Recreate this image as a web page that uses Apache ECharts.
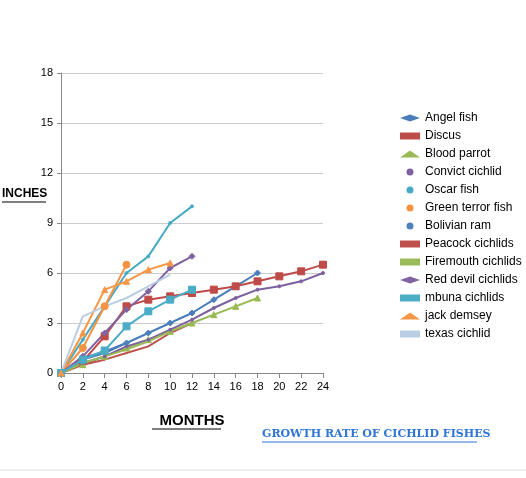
<!DOCTYPE html>
<html>
<head>
<meta charset="utf-8">
<script src="https://cdn.jsdelivr.net/npm/echarts@6/dist/echarts.min.js"></script>
<style>html,body{margin:0;background:#fff}#c{width:526px;height:478px}</style>
</head>
<body>
<div id="c"></div>
<script>
// months on x axis
var months = [0, 2, 4, 6, 8, 10, 12, 14, 16, 18, 20, 22, 24];
var names = ['Angel fish', 'Discus', 'Blood parrot', 'Convict cichlid', 'Oscar fish', 'Green terror fish',
  'Bolivian ram', 'Peacock cichlids', 'Firemouth cichlids', 'Red devil cichlids', 'mbuna cichlids', 'jack demsey', 'texas cichlid'];
var angelFish = [0, 0.8, 1.2, 1.8, 2.4, 3.0, 3.6, 4.4, 5.2, 6.0];
var discus = [0, 0.7, 2.2, 4.0, 4.4, 4.6, 4.8, 5.0, 5.2, 5.5, 5.8, 6.1, 6.5];
var bloodParrot = [0, 0.5, 1.0, 1.5, 2.0, 2.5, 3.0, 3.5, 4.0, 4.5];
var convict = [0, 0.6, 1.0, 1.6, 2.0, 2.6, 3.2, 3.9, 4.5, 5.0, 5.2, 5.5, 6.0];
var oscar = [0, 2.0, 4.0, 6.0, 7.0, 9.0, 10.0];
var greenTerror = [0, 1.5, 4.0, 6.5];
var bolivianRam = [0, 0.9, 1.3, 1.8];
var peacock = [0, 0.5, 0.8, 1.2, 1.6, 2.4, 3.0];
var firemouth = [0, 0.6, 1.0, 1.4, 1.9, 2.5, 3.0];
var redDevil = [0, 1.0, 2.4, 3.8, 4.9, 6.3, 7.0];
var mbuna = [0, 0.8, 1.35, 2.8, 3.7, 4.4, 5.0];
var jackDemsey = [0, 2.4, 5.0, 5.5, 6.2, 6.6];
var texas = [0, 3.4, 4.0, 4.5, 5.2, 5.9];
var yTicks = [0, 3, 6, 9, 12, 15, 18];

var allData = [angelFish, discus, bloodParrot, convict, oscar, greenTerror, bolivianRam,
  peacock, firemouth, redDevil, mbuna, jackDemsey, texas];
var colors = ['#4A7EBB', '#BE4B48', '#98B954', '#7D60A0', '#46AAC5', '#F69240',
  '#4F81BD', '#C0504D', '#9BBB59', '#8064A2', '#4BACC6', '#F79646', '#B9CDE5'];
var symbols = ['diamond', 'rect', 'triangle', 'circle', 'circle', 'circle',
  'circle', 'circle', 'circle', 'diamond', 'rect', 'triangle', 'circle'];
var sizes = [6, 7, 6, 3, 3, 7, 3, 0, 0, 6, 7, 6, 0];

var series = names.map(function (n, i) {
  return {
    name: n, type: 'line',
    data: allData[i].map(function (v, j) { return [months[j], v]; }),
    symbol: symbols[i], symbolSize: sizes[i],
    lineStyle: { width: 2, color: colors[i] },
    itemStyle: { color: colors[i], borderColor: colors[i] }
  };
});

var chart = echarts.init(document.getElementById('c'));
chart.setOption({
  animation: false,
  color: colors,
  grid: { left: 61, top: 73, width: 262, height: 300 },
  legend: {
    orient: 'vertical', left: 395, top: 107, itemGap: 6, itemWidth: 20, itemHeight: 7,
    textStyle: { fontSize: 12, color: '#000', fontFamily: 'Liberation Sans' },
    data: names.map(function (n, i) {
      return { name: n, icon: sizes[i] ? symbols[i] : 'rect', itemStyle: { color: colors[i] } };
    })
  },
  xAxis: {
    type: 'value', min: 0, max: 24, interval: 2,
    name: 'MONTHS', nameLocation: 'middle', nameGap: 40,
    nameTextStyle: { fontSize: 15, fontWeight: 'bold', color: '#000' },
    axisLine: { lineStyle: { color: '#888' } },
    axisTick: { show: true, length: 5 },
    axisLabel: { color: '#000', fontSize: 11 },
    splitLine: { show: false }
  },
  yAxis: {
    type: 'value', min: 0, max: 18, interval: 3,
    axisLine: { show: true, lineStyle: { color: '#888' } },
    axisTick: { show: true, length: 4 },
    axisLabel: { color: '#000', fontSize: 11, formatter: function (v) { return yTicks.indexOf(v) >= 0 ? v : ''; } },
    splitLine: { lineStyle: { color: '#ccc' } }
  },
  graphic: [{
    type: 'text', left: 2, top: 188,
    style: { text: 'INCHES', fontSize: 12, fontWeight: 'bold', fill: '#000' }
  }, {
    type: 'line', shape: { x1: 2, y1: 202, x2: 46, y2: 202 }, style: { stroke: '#000', lineWidth: 1 }
  }, {
    type: 'line', shape: { x1: 152, y1: 429, x2: 221, y2: 429 }, style: { stroke: '#000', lineWidth: 1.2 }
  }, {
    type: 'text', left: 262, top: 429,
    style: { text: 'GROWTH RATE OF CICHLID FISHES', fontSize: 11, fontWeight: 'bold', fontFamily: 'DejaVu Serif', fill: '#2E75D6' }
  }, {
    type: 'line', shape: { x1: 262, y1: 442, x2: 477, y2: 442 }, style: { stroke: '#2E75D6', lineWidth: 1 }
  }, {
    type: 'line', shape: { x1: 0, y1: 470, x2: 526, y2: 470 }, style: { stroke: '#ddd' }
  }],
  series: series
});
</script>
</body>
</html>
